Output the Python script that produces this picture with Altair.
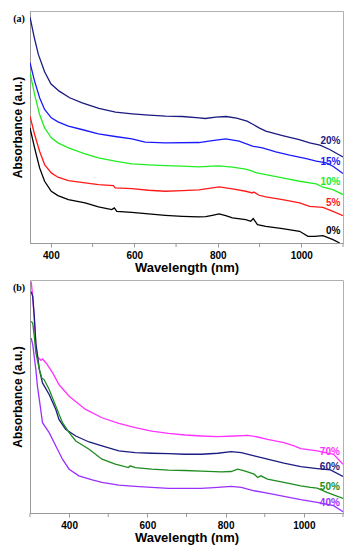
import altair as alt
import pandas as pd

# ---------- Panel (a) ----------
a_wl_20 = [350, 360, 370, 385, 400, 420, 445, 475, 515, 555, 595, 635, 675, 715, 755, 770, 795, 820, 845, 870, 885, 900, 915, 955, 995, 1020, 1045, 1068, 1085, 1100]
a_ab_20 = [677, 617, 565, 513, 477, 455, 435, 420, 403, 392, 387, 383, 380, 379, 375, 373, 377, 379, 374, 365, 355, 344, 335, 322, 310, 300, 293, 280, 268, 258]

a_wl_15 = [350, 361, 373, 385, 401, 417, 442, 474, 514, 554, 594, 626, 674, 755, 787, 819, 851, 883, 907, 939, 972, 1012, 1036, 1060, 1076, 1100]
a_ab_15 = [540, 485, 435, 400, 375, 363, 350, 340, 327, 319, 312, 302, 300, 301, 307, 312, 305, 290, 285, 273, 263, 253, 245, 240, 230, 208]

a_wl_10 = [350, 361, 373, 385, 401, 417, 442, 482, 514, 554, 594, 634, 674, 715, 755, 787, 803, 835, 867, 883, 891, 915, 955, 996, 1036, 1052, 1076, 1100]
a_ab_10 = [510, 445, 385, 345, 315, 300, 285, 267, 255, 245, 237, 234, 232, 230, 228, 230, 231, 227, 221, 215, 211, 205, 195, 185, 177, 167, 160, 145]

a_wl_5 = [350, 361, 373, 385, 401, 417, 442, 482, 514, 550, 554, 594, 634, 674, 715, 755, 787, 803, 835, 867, 883, 886, 899, 915, 955, 996, 1020, 1052, 1076, 1100]
a_ab_5 = [380, 325, 275, 235, 210, 197, 187, 180, 175, 172, 165, 163, 158, 155, 157, 159, 165, 168, 162, 155, 150, 153, 143, 138, 130, 120, 110, 107, 95, 82]

a_wl_0 = [350, 361, 373, 385, 401, 417, 442, 482, 514, 546, 552, 558, 594, 634, 674, 715, 755, 771, 787, 803, 819, 835, 867, 879, 885, 895, 915, 955, 996, 1016, 1032, 1052, 1076, 1092]
a_ab_0 = [345, 285, 225, 185, 155, 142, 130, 120, 108, 100, 105, 95, 92, 87, 83, 80, 78, 79, 83, 87, 82, 75, 70, 65, 73, 55, 50, 43, 35, 20, 20, 22, 10, 0]

a_series = ["20%", "15%", "10%", "5%", "0%"]
a_colors = ["#1b1b80", "#1a1aff", "#22ee22", "#ff1a1a", "#000000"]
a_label_y = [307, 243, 182, 121, 35]
a_minor = [500, 700, 900, 1100]

# ---------- Panel (b) ----------
b_wl_70 = [303, 307, 311, 315, 319, 328, 332, 341, 358, 374, 400, 442, 484, 527, 569, 611, 654, 696, 738, 780, 823, 856, 882, 907, 949, 975, 992, 1034, 1076, 1100]
b_ab_70 = [697, 652, 582, 502, 470, 460, 464, 452, 422, 387, 352, 312, 287, 270, 257, 247, 240, 235, 232, 230, 232, 234, 229, 222, 212, 202, 194, 187, 177, 147]

b_wl_60 = [303, 307, 311, 315, 324, 332, 349, 366, 374, 391, 417, 451, 484, 527, 569, 611, 654, 696, 738, 780, 814, 840, 873, 907, 949, 992, 1034, 1068, 1100]
b_ab_60 = [667, 652, 592, 512, 432, 392, 357, 312, 282, 252, 232, 214, 202, 187, 182, 180, 179, 177, 177, 180, 185, 182, 172, 162, 150, 140, 134, 130, 110]

b_wl_50 = [303, 307, 311, 315, 324, 330, 336, 349, 366, 383, 400, 417, 451, 484, 518, 552, 556, 569, 611, 654, 696, 738, 789, 814, 831, 848, 873, 882, 890, 907, 949, 992, 1017, 1034, 1059, 1100]
b_ab_50 = [577, 572, 532, 482, 432, 407, 402, 372, 322, 272, 242, 217, 192, 162, 147, 137, 142, 137, 132, 129, 128, 126, 124, 125, 132, 127, 117, 107, 112, 102, 92, 82, 77, 75, 62, 44]

b_wl_40 = [303, 307, 315, 319, 325, 332, 349, 366, 383, 400, 425, 459, 484, 527, 569, 611, 654, 738, 780, 814, 840, 873, 907, 949, 992, 1034, 1076, 1100]
b_ab_40 = [527, 507, 432, 382, 332, 272, 242, 202, 162, 132, 112, 100, 92, 84, 80, 77, 74, 74, 77, 80, 77, 67, 60, 50, 40, 32, 22, 4]

b_series = ["70%", "60%", "50%", "40%"]
b_colors = ["#ff33ff", "#1b1b80", "#1e8c1e", "#9b30ff"]
b_label_y = [184, 140, 79, 29]
b_minor = [300, 500, 700, 900, 1100]

x_ticks_major = [400, 600, 800, 1000]


def long_df(series, wls, abss):
    rows = []
    for s, w, a in zip(series, wls, abss):
        for i, (xx, yy) in enumerate(zip(w, a)):
            rows.append({"series": s, "wl": xx, "ab": yy, "i": i})
    return pd.DataFrame(rows)


def panel(series, colors, wls, abss, label_y, label_x, xdom, ydom, tag, w, h, minor):
    df = long_df(series, wls, abss)
    lab = pd.DataFrame({"series": series, "wl": [label_x] * len(series), "ab": label_y})
    cscale = alt.Scale(domain=series, range=colors)
    xs = alt.Scale(domain=xdom, nice=False, zero=False)
    ys = alt.Scale(domain=ydom, nice=False, zero=False)
    xaxis = alt.Axis(values=x_ticks_major, format="d", title="Wavelength (nm)", grid=False,
                     labelOverlap=False, labelFlush=False)
    yaxis = alt.Axis(labels=False, ticks=False, title="Absorbance (a.u.)", grid=False)
    lines = alt.Chart(df).mark_line(strokeWidth=1.3, clip=True).encode(
        x=alt.X("wl:Q", scale=xs, axis=xaxis),
        y=alt.Y("ab:Q", scale=ys, axis=yaxis),
        color=alt.Color("series:N", scale=cscale, legend=None),
        detail="series:N",
        order="i:Q",
    )
    minor_ticks = alt.Chart(pd.DataFrame({"wl": minor})).mark_rule(
        color="#999999", strokeWidth=1
    ).encode(x=alt.X("wl:Q", scale=xs), y=alt.value(h), y2=alt.value(h + 4))
    texts = alt.Chart(lab).mark_text(align="right", baseline="middle", fontWeight="bold",
                                     fontSize=10, font="Liberation Sans").encode(
        x=alt.X("wl:Q", scale=xs),
        y=alt.Y("ab:Q", scale=ys),
        color=alt.Color("series:N", scale=cscale, legend=None),
        text="series:N",
    )
    tagc = alt.Chart(pd.DataFrame({"t": [tag]})).mark_text(
        font="Liberation Serif", fontWeight="bold", fontSize=10, align="center", baseline="middle"
    ).encode(x=alt.value(-11), y=alt.value(8), text="t:N")
    return alt.layer(lines, minor_ticks, texts, tagc).properties(width=w, height=h)


pa = panel(a_series, a_colors,
           [a_wl_20, a_wl_15, a_wl_10, a_wl_5, a_wl_0],
           [a_ab_20, a_ab_15, a_ab_10, a_ab_5, a_ab_0],
           a_label_y, 1094, [350, 1100], [0, 695], "(a)", 313, 232, a_minor)
pb = panel(b_series, b_colors,
           [b_wl_70, b_wl_60, b_wl_50, b_wl_40],
           [b_ab_70, b_ab_60, b_ab_50, b_ab_40],
           b_label_y, 1092, [300, 1100], [0, 702], "(b)", 313, 233, b_minor)

chart = alt.vconcat(pa, pb, spacing=4).resolve_scale(
    color="independent", x="independent", y="independent"
).resolve_axis(x="independent", y="independent").properties(
    padding={"left": 2, "top": 2, "right": 2, "bottom": 2}
).configure_view(stroke="#b0b0b0", strokeWidth=1).configure_axis(
    domainColor="#999999", tickColor="#999999", tickSize=4,
    labelFont="Liberation Sans", labelFontWeight="bold", labelFontSize=10, labelColor="#000",
    labelPadding=3,
    titleFont="Liberation Sans", titleFontWeight="bold", titleFontSize=13, titleColor="#000",
    titlePadding=1,
).configure_axisY(titleFontSize=12, titlePadding=6)

chart.save("out.html", embed_options={"renderer": "svg", "actions": False})
